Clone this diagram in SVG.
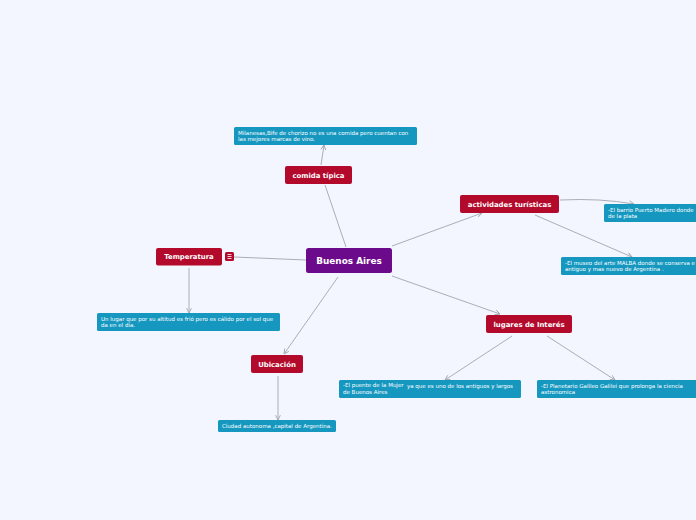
<svg xmlns="http://www.w3.org/2000/svg" width="696" height="520" viewBox="0 0 696 520">
<defs>
<style>
.bg{fill:#f3f6fe}
.main rect{fill:#6c0a8c}
.topic rect{fill:#b30a2c}
.note rect{fill:#1597bf}
.main text{font-family:"DejaVu Sans",sans-serif;font-weight:bold;font-size:8.9px;fill:#fff;text-anchor:middle}
.topic text{font-family:"DejaVu Sans",sans-serif;font-weight:bold;font-size:6.9px;fill:#fff;text-anchor:middle}
.note text{font-family:"DejaVu Sans",sans-serif;font-size:5.5px;fill:#fff}
.conn path{fill:none;stroke:#a3a5ad;stroke-width:0.9}
</style>
<marker id="ah" viewBox="0 0 10 10" refX="9" refY="5" markerWidth="6" markerHeight="6" orient="auto" markerUnits="userSpaceOnUse">
<path d="M1,1 L9,5 L1,9" fill="none" stroke="#a3a5ad" stroke-width="1.5"/>
</marker>
</defs>
<rect class="bg" x="0" y="0" width="696" height="520"/>
<g class="conn">
<path d="M346,247 L325,185"/>
<path d="M321,165 L324,145" marker-end="url(#ah)"/>
<path d="M306,260 L234,257"/>
<path d="M189,268 L189,313" marker-end="url(#ah)"/>
<path d="M338,277 L284,354" marker-end="url(#ah)"/>
<path d="M278,376 L278,420" marker-end="url(#ah)"/>
<path d="M392,246 L482,213" marker-end="url(#ah)"/>
<path d="M560,200 Q600,198 634,204" marker-end="url(#ah)"/>
<path d="M535,215 L632,257" marker-end="url(#ah)"/>
<path d="M392,276 L500,314" marker-end="url(#ah)"/>
<path d="M512,336 L445,380" marker-end="url(#ah)"/>
<path d="M547,336 L615,380" marker-end="url(#ah)"/>
</g>
<g id="buenos-aires" class="main">
<rect x="306" y="248" width="86" height="25" rx="2.5"/>
<text x="349" y="264">Buenos Aires</text>
</g>
<g id="comida" class="topic">
<rect x="285" y="166" width="67" height="18" rx="2"/>
<text x="318.5" y="177.5">comida típica</text>
</g>
<g id="comida-note" class="note">
<rect x="234" y="127" width="183" height="18" rx="1.5"/>
<text x="238" y="134.5">Milanesas,Bife de chorizo no es una comida pero cuentan con</text>
<text x="238" y="141">las mejores marcas de vino.</text>
</g>
<g id="temperatura" class="topic">
<rect x="156" y="248" width="66" height="17.5" rx="2"/>
<text x="189" y="259">Temperatura</text>
<rect x="225" y="252" width="9" height="9" rx="1.5"/>
<path d="M227.5,254.5h4M227.5,256.5h4M227.5,258.5h4" stroke="#fff" stroke-width="0.8" fill="none"/>
</g>
<g id="temperatura-note" class="note">
<rect x="97" y="313" width="183" height="18" rx="1.5"/>
<text x="101" y="320.5">Un lugar que por su altitud es frió pero es cálido por el sol que</text>
<text x="101" y="327">da en el día.</text>
</g>
<g id="ubicacion" class="topic">
<rect x="251" y="355" width="52" height="18" rx="2"/>
<text x="277" y="366.5">Ubicación</text>
</g>
<g id="ubicacion-note" class="note">
<rect x="218" y="420" width="118" height="12" rx="1.5"/>
<text x="222" y="428">Ciudad autonoma ,capital de Argentina.</text>
</g>
<g id="actividades" class="topic">
<rect x="460" y="195" width="99" height="18" rx="2"/>
<text x="509.5" y="206.5">actividades turísticas</text>
</g>
<g id="actividades-note1" class="note">
<rect x="604" y="204" width="120" height="18" rx="1.5"/>
<text x="608" y="211.5">-El barrio Puerto Madero donde</text>
<text x="608" y="218">de la plata</text>
</g>
<g id="actividades-note2" class="note">
<rect x="561" y="257" width="160" height="18" rx="1.5"/>
<text x="565" y="264.5">-El museo del arte MALBA donde se conserva e</text>
<text x="565" y="271">antiguo y mas nuevo de Argentina .</text>
</g>
<g id="lugares" class="topic">
<rect x="486" y="315" width="86" height="18" rx="2"/>
<text x="529" y="326.5">lugares de Interés</text>
</g>
<g id="lugares-note1" class="note">
<rect x="339" y="380" width="182" height="18" rx="1.5"/>
<text x="343" y="386.5">-El puente de la Mujer</text>
<text x="407" y="387.5">ya que es uno de los antiguos y largos</text>
<text x="343" y="394">de Buenos Aires</text>
</g>
<g id="lugares-note2" class="note">
<rect x="537" y="380" width="170" height="18" rx="1.5"/>
<text x="541" y="387.5">-El Planetario Galileo Galilei que prolonga la ciencia</text>
<text x="541" y="394">astronomica</text>
</g>
</svg>
